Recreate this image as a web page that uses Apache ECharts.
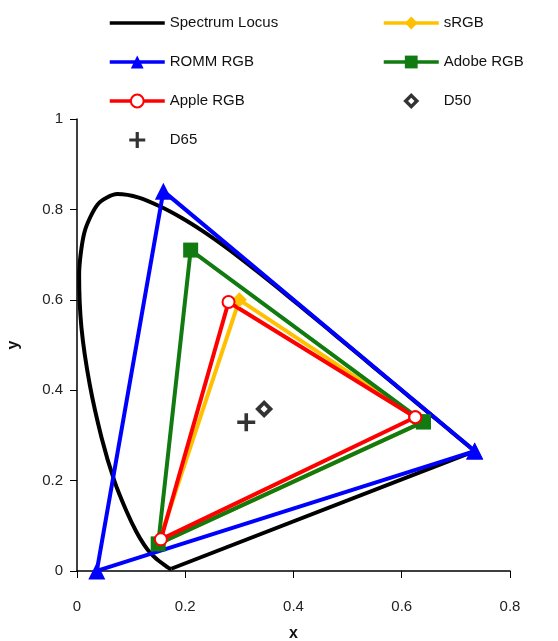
<!DOCTYPE html>
<html>
<head>
<meta charset="utf-8">
<script src="https://cdn.jsdelivr.net/npm/echarts@6/dist/echarts.min.js"></script>
<style>html,body{margin:0;padding:0;background:#fff}#c{width:558px;height:641px}</style>
</head>
<body>
<div id="c"></div>
<script>
// Spectrum locus (x, y) (380 nm -> 700 nm)
const locusX = [0.1741,0.1740,0.1738,0.1736,0.1733,0.1730,0.1726,0.1721,0.1714,0.1703,0.1689,0.1669,0.1644,0.1611,0.1566,0.1510,0.1440,0.1355,0.1241,0.1096,0.0913,0.0687,0.0454,0.0235,0.0082,0.0039,0.0139,0.0389,0.0743,0.1142,0.1547,0.1929,0.2296,0.2658,0.3016,0.3373,0.3731,0.4087,0.4441,0.4788,0.5125,0.5448,0.5752,0.6029,0.6270,0.6482,0.6658,0.6801,0.6915,0.7006,0.7079,0.7140,0.7190,0.7230,0.7260,0.7300,0.7320,0.7334,0.7347];
const locusY = [0.0050,0.0050,0.0049,0.0049,0.0048,0.0048,0.0048,0.0048,0.0051,0.0058,0.0069,0.0086,0.0109,0.0138,0.0177,0.0227,0.0297,0.0399,0.0578,0.0868,0.1327,0.2007,0.2950,0.4127,0.5384,0.6548,0.7502,0.8120,0.8338,0.8262,0.8059,0.7816,0.7543,0.7243,0.6923,0.6589,0.6245,0.5896,0.5547,0.5202,0.4866,0.4544,0.4242,0.3965,0.3725,0.3514,0.3340,0.3197,0.3083,0.2993,0.2920,0.2859,0.2809,0.2770,0.2740,0.2700,0.2680,0.2666,0.2653];
// Straight line of purples closing the locus
const purpleX = [0.7347, 0.1741];
const purpleY = [0.2653, 0.0050];

// Gamut triangles: R, G, B, back to R
const srgbX  = [0.64, 0.30, 0.15, 0.64];
const srgbY  = [0.33, 0.60, 0.06, 0.33];
const rommX  = [0.7347, 0.1596, 0.0366, 0.7347];
const rommY  = [0.2653, 0.8404, 0.0001, 0.2653];
const adobeX = [0.64, 0.21, 0.15, 0.64];
const adobeY = [0.33, 0.71, 0.06, 0.33];
const appleX = [0.625, 0.28, 0.155, 0.625];
const appleY = [0.34, 0.595, 0.07, 0.34];

// White points
const d50 = [0.3457, 0.3585];
const d65 = [0.3127, 0.3290];

const xTicks = ['0','0.2','0.4','0.6','0.8'];
const yTicks = ['0','0.2','0.4','0.6','0.8','1'];

const zip = (xs, ys) => xs.map((v, i) => [v, ys[i]]);
const FONT = 'Liberation Sans, Arial, sans-serif';
const plusPath = 'path://M4,0H6V4H10V6H6V10H4V6H0V4H4Z';
const ringDiamond = 'path://M5,0L10,5L5,10L0,5ZM5,3L3,5L5,7L7,5Z';
const linePath = 'path://M0,0H56V3.5H0Z';

const chart = echarts.init(document.getElementById('c'), null, {renderer: 'canvas'});
const lineSeries = (name, xs, ys, color, symbol, size, extra) => Object.assign({
  name, type: 'line', data: zip(xs, ys), symbol, symbolSize: size,
  lineStyle: {color, width: 4}, itemStyle: {color},
  animation: false, z: 2
}, extra || {});

const legendCommon = {
  orient: 'vertical', itemWidth: 55, itemHeight: 16, itemGap: 23, padding: 0,
  selectedMode: false,
  lineStyle: {width: 3.5},
  textStyle: {fontFamily: FONT, fontSize: 15, color: '#111', lineHeight: 16}
};

chart.setOption({
  animation: false,
  backgroundColor: '#fff',
  grid: {left: 77, right: 48, top: 119, bottom: 70, outerBoundsMode: 'none', containLabel: false},
  legend: [
    Object.assign({left: 108, top: 15, data: [
      {name: 'Spectrum Locus', icon: linePath}, 'ROMM RGB', 'Apple RGB', 'D65']}, legendCommon),
    Object.assign({left: 382, top: 15, data: ['sRGB', 'Adobe RGB', 'D50']}, legendCommon)
  ],
  xAxis: {
    type: 'value', min: 0, max: 0.8, interval: 0.2,
    name: 'x', nameLocation: 'middle', nameGap: 55,
    nameTextStyle: {fontFamily: FONT, fontSize: 16, fontWeight: 'bold', color: '#111'},
    axisLine: {show: true, onZero: false, lineStyle: {color: '#000', width: 1.5}},
    axisTick: {show: true, length: 7, lineStyle: {color: '#000'}},
    axisLabel: {margin: 28, fontFamily: FONT, fontSize: 15, color: '#222',
      formatter: (v) => xTicks[Math.round(v / 0.2)]},
    splitLine: {show: false}
  },
  yAxis: {
    type: 'value', min: 0, max: 1, interval: 0.2,
    name: 'y', nameLocation: 'middle', nameGap: 55,
    nameTextStyle: {fontFamily: FONT, fontSize: 16, fontWeight: 'bold', color: '#111'},
    axisLine: {show: true, onZero: false, lineStyle: {color: '#000', width: 1.5}},
    axisTick: {show: true, length: 7, lineStyle: {color: '#000'}},
    axisLabel: {margin: 14, fontFamily: FONT, fontSize: 15, color: '#222',
      formatter: (v) => yTicks[Math.round(v / 0.2)]},
    splitLine: {show: false}
  },
  series: [
    lineSeries('Spectrum Locus', locusX, locusY, '#000', 'none', 0, {showSymbol: false, smooth: 0.25}),
    lineSeries('Spectrum Locus', purpleX, purpleY, '#000', 'none', 0, {showSymbol: false}),
    lineSeries('sRGB', srgbX, srgbY, '#FFC000', 'diamond', 15),
    lineSeries('ROMM RGB', rommX, rommY, '#0000FF', 'triangle', 17),
    lineSeries('Adobe RGB', adobeX, adobeY, '#117A11', 'rect', 15),
    lineSeries('Apple RGB', appleX, appleY, '#FF0000', 'emptyCircle', 12, {itemStyle: {color: '#FF0000', borderWidth: 3.5}}),
    {name: 'D50', type: 'scatter', data: [d50], symbol: ringDiamond, symbolSize: 18,
     itemStyle: {color: '#000'}, z: 3},
    {name: 'D65', type: 'scatter', data: [d65], symbol: plusPath, symbolSize: 18,
     itemStyle: {color: '#000'}, z: 3}
  ]
});
</script>
</body>
</html>
